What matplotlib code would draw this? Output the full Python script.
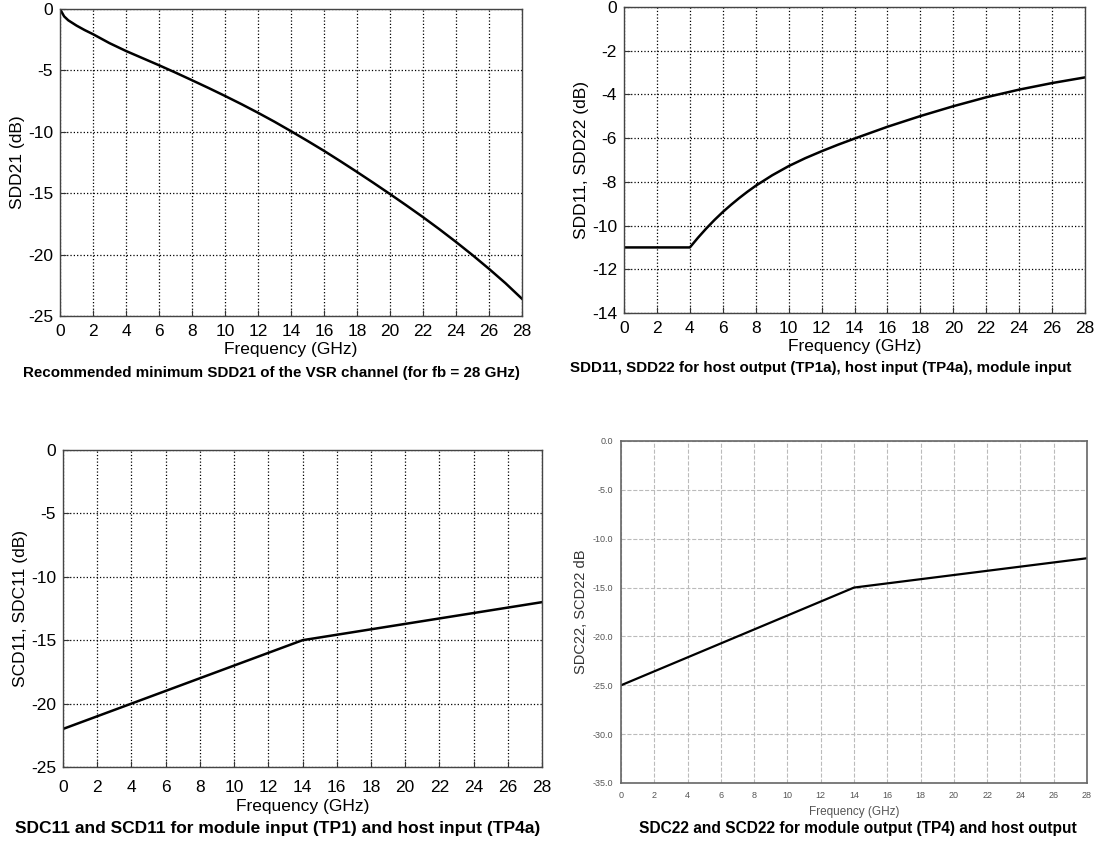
import numpy as np
import matplotlib.pyplot as plt

plt.rcParams['font.family'] = ['Liberation Sans', 'DejaVu Sans']
plt.rcParams['axes.unicode_minus'] = False

# data
freq_sdd21 = [0, 0.25, 0.5, 1, 1.5, 2, 3, 4, 5, 6, 7, 8, 9, 10, 11, 12, 13, 14,
              15, 16, 17, 18, 19, 20, 21, 22, 23, 24, 25, 26, 27, 28]
sdd21 = [0, -0.6, -0.92, -1.35, -1.72, -2.05, -2.78, -3.42, -4.0, -4.58, -5.18,
         -5.8, -6.43, -7.08, -7.75, -8.45, -9.18, -9.95, -10.74, -11.55, -12.4,
         -13.27, -14.16, -15.07, -16.0, -16.95, -17.94, -18.97, -20.04, -21.16,
         -22.33, -23.6]

freq_sdd11 = [0, 4, 4.5, 5, 5.5, 6, 6.5, 7, 7.5, 8, 9, 10, 11, 12, 13, 14, 16,
              18, 20, 22, 24, 26, 28]
sdd11 = [-11, -11, -10.55, -10.13, -9.74, -9.38, -9.05, -8.74, -8.45, -8.18,
         -7.7, -7.28, -6.92, -6.6, -6.3, -6.02, -5.48, -4.99, -4.54, -4.13,
         -3.78, -3.48, -3.22]

freq_scd11 = [0, 14, 28]
scd11 = [-22, -15, -12]

freq_sdc22 = [0, 14, 28]
sdc22 = [-25, -15, -12]

xticks = np.arange(0, 29, 2)

W, H = 1096, 841
fig = plt.figure(figsize=(W / 100, H / 100), dpi=100)


def box(l, r, t, b):
    return [l / W, 1 - b / H, (r - l) / W, (b - t) / H]


def matlab_axes(rect, x, y, yticks, ylim, ylabel, xpad=6, lpad=2):
    ax = fig.add_axes(rect)
    ax.plot(x, y, color='black', lw=1.8)
    ax.set_xlim(0, 28)
    ax.set_ylim(*ylim)
    ax.set_xticks(xticks)
    ax.set_yticks(yticks)
    ax.grid(True, color='black', ls=':', lw=0.9)
    ax.tick_params(direction='in', length=4, labelsize=12.5, color='#333333')
    ax.tick_params(axis='x', pad=xpad)
    ax.tick_params(axis='y', pad=5)
    for s in ax.spines.values():
        s.set_color('#444444')
        s.set_linewidth(1.0)
    ax.set_xlabel('Frequency (GHz)', fontsize=12.5, labelpad=lpad)
    ax.set_ylabel(ylabel, fontsize=12.5, labelpad=2)
    return ax


ax1 = matlab_axes(box(60, 522, 9, 316), freq_sdd21, sdd21,
                  [0, -5, -10, -15, -20, -25], (-25, 0), 'SDD21 (dB)')
ax2 = matlab_axes(box(624, 1085, 7, 313), freq_sdd11, sdd11,
                  list(range(0, -15, -2)), (-14, 0), 'SDD11, SDD22 (dB)')
ax3 = matlab_axes(box(63, 542, 450, 767), freq_scd11, scd11,
                  [0, -5, -10, -15, -20, -25], (-25, 0), 'SCD11, SDC11 (dB)',
                  xpad=9, lpad=3)

# bottom right panel has a different look
ax4 = fig.add_axes(box(621, 1087, 441, 783))
ax4.plot(freq_sdc22, sdc22, color='black', lw=1.6)
ax4.set_xlim(0, 28)
ax4.set_ylim(-35, 0)
ax4.set_xticks(xticks)
ax4.set_yticks(np.arange(0, -36, -5))
ax4.set_yticklabels(['%.1f' % v for v in np.arange(0, -36, -5)])
ax4.grid(True, color='#bbbbbb', ls='--', lw=0.8)
ax4.tick_params(length=0, labelsize=6.5, labelcolor='#555555', pad=6)
for s in ax4.spines.values():
    s.set_color('#666666')
    s.set_linewidth(1.2)
ax4.set_xlabel('Frequency (GHz)', fontsize=8.5, color='#555555', labelpad=4)
ax4.set_ylabel('SDC22, SCD22 dB', fontsize=10.5, color='#333333', labelpad=3)

caps = [
    (271, 373, 'Recommended minimum SDD21 of the VSR channel (for fb = 28 GHz)', 10.9),
    (821, 368, 'SDD11, SDD22 for host output (TP1a), host input (TP4a), module input', 10.9),
    (278, 829, 'SDC11 and SCD11 for module input (TP1) and host input (TP4a)', 12.5),
    (858, 829, 'SDC22 and SCD22 for module output (TP4) and host output', 11.2),
]
for cx, cy, t, fs in caps:
    fig.text(cx / W, 1 - cy / H, t, ha='center', va='center',
             fontsize=fs, fontweight='bold')

fig.savefig('out.png', dpi=100)
